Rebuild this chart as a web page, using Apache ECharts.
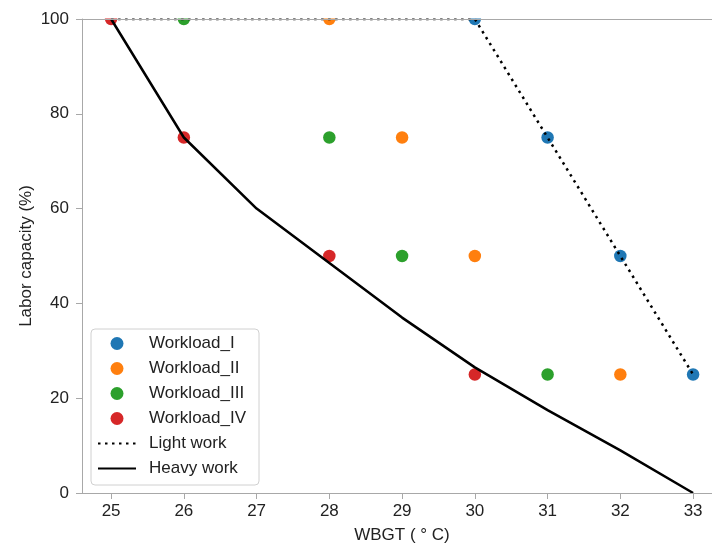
<!DOCTYPE html>
<html>
<head>
<meta charset="utf-8">
<script src="https://cdn.jsdelivr.net/npm/echarts@6/dist/echarts.min.js"></script>
<style>
  html, body { margin: 0; padding: 0; background: #fff; }
  #chart { width: 712px; height: 549px; }
</style>
</head>
<body>
<div id="chart"></div>
<script>
// WBGT ticks and labor capacity levels
var wbgtTicks = [25, 26, 27, 28, 29, 30, 31, 32, 33];
var capacityLevels = [100, 75, 50, 25];

// WBGT at which each workload reaches the capacity levels above
var workloadI = [30, 31, 32, 33];
var workloadII = [28, 29, 30, 32];
var workloadIII = [26, 28, 29, 31];
var workloadIV = [25, 26, 28, 30];

// reference curves
var lightX = [25, 30, 31, 32, 33];
var lightY = [100, 100, 75, 50, 25];
var heavyX = [25, 26, 27, 28, 29, 30, 31, 32, 33];
var heavyY = [100, 75, 60, 48.5, 37, 26.5, 17.5, 9, 0];

var colors = ['#1f77b4', '#ff7f0e', '#2ca02c', '#d62728'];
var axisGray = '#a8a8a8';
var textColor = '#222';
var font = 'Liberation Sans';
var fs = 17;

function pairs(xs, ys) {
    return xs.map(function (x, i) { return [x, ys[i]]; });
}

function scatter(name, xs, color) {
    return {
        name: name,
        type: 'scatter',
        symbol: 'circle',
        symbolSize: 12.5,
        itemStyle: { color: color, opacity: 1 },
        z: 2,
        data: pairs(xs, capacityLevels)
    };
}

var chart = echarts.init(document.getElementById('chart'));

var option = {
    animation: false,
    textStyle: { fontFamily: font },
    grid: { left: 82, right: 0, top: 19, bottom: 56 },
    legend: {
        orient: 'vertical',
        left: 91,
        top: 329,
        backgroundColor: '#fff',
        borderColor: '#d0d0d0',
        borderWidth: 1,
        borderRadius: 4,
        padding: [6, 13, 8, 6],
        itemGap: 8,
        itemWidth: 38,
        itemHeight: 13,
        textStyle: { fontSize: fs, color: textColor, fontFamily: font, padding: [0, 0, 0, 8] },
        data: ['Workload_I', 'Workload_II', 'Workload_III', 'Workload_IV',
            { name: 'Light work', itemStyle: { opacity: 0 } },
            { name: 'Heavy work', itemStyle: { opacity: 0 } }],
        z: 20
    },
    xAxis: [{
        type: 'value',
        min: 24.6,
        max: 33.26,
        name: 'WBGT ( ° C)',
        nameLocation: 'middle',
        nameGap: 34,
        nameMoveOverlap: false,
        nameTextStyle: { fontSize: fs, color: textColor, fontFamily: font, padding: [0, 0, 0, 10] },
        axisLine: { lineStyle: { color: axisGray, width: 1 } },
        axisTick: { show: true, length: 6, lineStyle: { color: axisGray }, customValues: wbgtTicks },
        axisLabel: { fontSize: fs, color: textColor, margin: 10, customValues: wbgtTicks },
        splitLine: { show: false },
        z: 10
    }, {
        type: 'value',
        position: 'top',
        min: 24.6,
        max: 33.26,
        axisLine: { show: true, onZero: false, lineStyle: { color: axisGray, width: 1 } },
        axisTick: { show: false },
        axisLabel: { show: false },
        splitLine: { show: false },
        z: 10
    }],
    yAxis: {
        type: 'value',
        min: 0,
        max: 100,
        interval: 20,
        name: 'Labor capacity (%)',
        nameLocation: 'middle',
        nameGap: 47,
        nameMoveOverlap: false,
        nameTextStyle: { fontSize: fs, color: textColor, fontFamily: font },
        axisLine: { show: true, lineStyle: { color: axisGray, width: 1 } },
        axisTick: { show: true, length: 6, lineStyle: { color: axisGray } },
        axisLabel: { fontSize: fs, color: textColor, margin: 13 },
        splitLine: { show: false },
        z: 10
    },
    graphic: [{
        // hide whatever sticks out above the plot area, like matplotlib clipping
        type: 'rect',
        shape: { x: 83, y: 0, width: 640, height: 18.5 },
        style: { fill: '#fff' },
        z: 5
    }],
    series: [
        scatter('Workload_I', workloadI, colors[0]),
        scatter('Workload_II', workloadII, colors[1]),
        scatter('Workload_III', workloadIII, colors[2]),
        scatter('Workload_IV', workloadIV, colors[3]),
        {
            name: 'Light work',
            type: 'line',
            symbol: 'none',
            itemStyle: { color: '#000' },
            lineStyle: { color: '#000', width: 2.5, type: [2.5, 4.5] },
            z: 3,
            data: pairs(lightX, lightY)
        },
        {
            name: 'Heavy work',
            type: 'line',
            symbol: 'none',
            itemStyle: { color: '#000' },
            lineStyle: { color: '#000', width: 2.5 },
            z: 3,
            data: pairs(heavyX, heavyY)
        }
    ]
};

chart.setOption(option);
</script>
</body>
</html>
